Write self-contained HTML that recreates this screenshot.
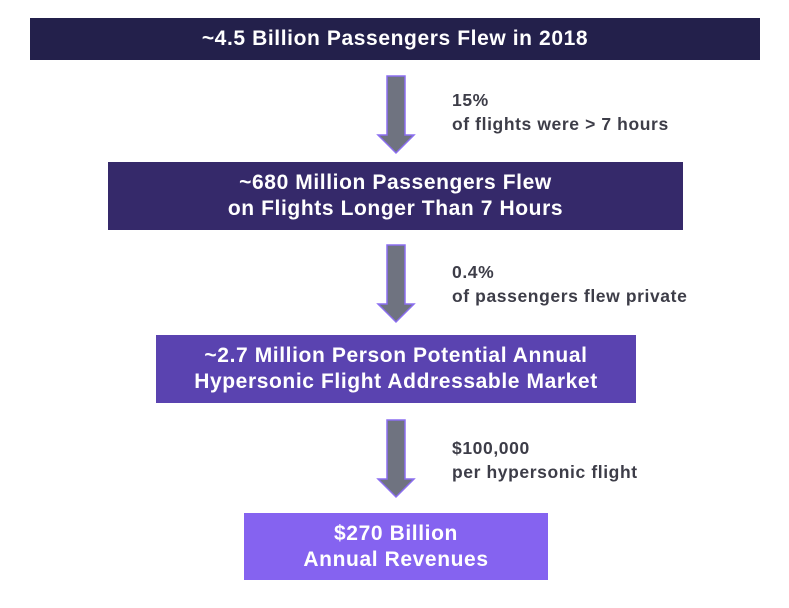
<!DOCTYPE html>
<html><head><meta charset="utf-8"><style>
body{margin:0;width:789px;height:608px;background:#fff;position:relative;font-family:"Liberation Sans",sans-serif;overflow:hidden}
.box{position:absolute;color:#fff;font-weight:bold;font-size:21px;letter-spacing:0.6px;line-height:26px;display:flex;align-items:center;justify-content:center;text-align:center}
.note{position:absolute;left:452px;color:#3d3d48;font-weight:bold;font-size:17.5px;letter-spacing:0.6px;line-height:24px}
svg{position:absolute;left:0;top:0}
</style></head><body>
<div class="box" style="left:30px;top:18px;width:730px;height:42px;background:#23204b">~4.5 Billion Passengers Flew in 2018</div>
<div class="box" style="left:108px;top:162px;width:575px;height:68px;background:#35296a">~680 Million Passengers Flew<br>on Flights Longer Than 7 Hours</div>
<div class="box" style="left:156px;top:335px;width:480px;height:68px;background:#5a43b0">~2.7 Million Person Potential Annual<br>Hypersonic Flight Addressable Market</div>
<div class="box" style="left:244px;top:513px;width:304px;height:67px;background:#8563f0">$270 Billion<br>Annual Revenues</div>
<svg width="789" height="608">
<polygon points="387,76 405,76 405,135 414,135 396,153 378,135 387,135" fill="#6f7380" stroke="#8b6ef0" stroke-width="1.5"/>
<polygon points="387,245 405,245 405,304 414,304 396,322 378,304 387,304" fill="#6f7380" stroke="#8b6ef0" stroke-width="1.5"/>
<polygon points="387,420 405,420 405,479 414,479 396,497 378,479 387,479" fill="#6f7380" stroke="#8b6ef0" stroke-width="1.5"/>
</svg>
<div class="note" style="top:88px">15%<br>of flights were &gt; 7 hours</div>
<div class="note" style="top:260px">0.4%<br>of passengers flew private</div>
<div class="note" style="top:436px">$100,000<br>per hypersonic flight</div>
</body></html>
